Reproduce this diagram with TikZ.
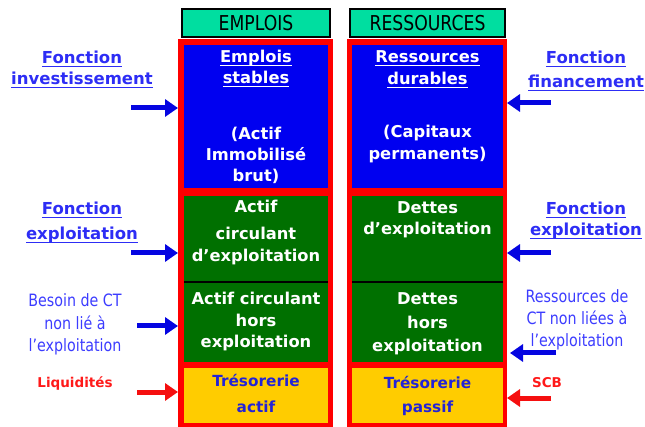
\documentclass[tikz,border=0pt]{standalone}
\usepackage{fontspec}
\setmainfont{DejaVu Sans}
\newfontfamily\narrowsans[FakeStretch=0.84]{DejaVu Sans}
\usetikzlibrary{arrows.meta}

\definecolor{hdrfill}{RGB}{0,222,160}
\definecolor{framered}{RGB}{255,0,0}
\definecolor{stablefill}{RGB}{0,0,240}
\definecolor{circfill}{RGB}{0,112,0}
\definecolor{tresofill}{RGB}{255,204,0}
\definecolor{tresotext}{RGB}{35,35,215}
\definecolor{linkblue}{RGB}{45,45,245}
\definecolor{plainblue}{RGB}{60,60,255}
\definecolor{arrowblue}{RGB}{5,5,225}
\definecolor{arrowred}{RGB}{245,15,15}
\definecolor{labelred}{RGB}{255,25,25}

% underline drawn at a fixed depth, crossing descenders
\newcommand\lineul[1]{\setbox0\hbox{#1}\rlap{\rule[-3.2pt]{\wd0}{1.3pt}}\box0}

% multi-line text nodes are placed by the baseline of their last line
\tikzset{
  panel/.style={inner sep=0pt, outer sep=0pt, anchor=north west},
  header/.style={panel, draw=black, line width=1.3pt, fill=hdrfill},
  headtext/.style={font=\narrowsans\fontsize{20.5}{22}\selectfont},
  redframe/.style={panel, fill=framered},
  txt/.style={anchor=base, inner sep=0pt, outer sep=0pt, align=center},
  boxtext/.style={txt, text=white, font=\bfseries\fontsize{16.3}{#1}\selectfont},
  tresotxt/.style={txt, text=tresotext, font=\bfseries\fontsize{15.3}{22}\selectfont},
  linklabel/.style={txt, text=linkblue, font=\bfseries\fontsize{16.5}{#1}\selectfont},
  plainlabel/.style={txt, text=plainblue, font=\narrowsans\fontsize{17}{#1}\selectfont},
  redlabel/.style={txt, text=labelred, font=\bfseries\fontsize{13.5}{16}\selectfont},
  bluearrow/.style={draw=arrowblue, line width=5pt, -{Triangle[length=13pt,width=17pt]}},
  redarrow/.style={draw=arrowred, line width=5pt, -{Triangle[length=13pt,width=17pt]}},
  divider/.style={draw=black, line width=1.3pt}
}

\begin{document}
\begin{tikzpicture}[x=1pt,y=-1pt]
\useasboundingbox (0,0) rectangle (645,427);

% column headings
\node[header, minimum width=148pt, minimum height=28pt] (hemp) at (182,9) {};
\node[headtext] (hempt) at (hemp.center) {EMPLOIS};
\node[header, minimum width=155pt, minimum height=28pt] (hres) at (350,9) {};
\node[headtext] (hrest) at (hres.center) {RESSOURCES};

% red frames of the two columns
\node[redframe, minimum width=155pt, minimum height=388pt] (lframe) at (178,39) {};
\node[redframe, minimum width=160pt, minimum height=388pt] (rframe) at (347,39) {};

% left column: uses
\node[panel, fill=stablefill, minimum width=144pt, minimum height=143pt] (lstable) at (184,45) {};
\node[panel, fill=circfill, minimum width=144pt, minimum height=86pt] (lcircA) at (184,196) {};
\node[panel, fill=circfill, minimum width=144pt, minimum height=80pt] (lcircB) at (184,282) {};
\node[panel, fill=tresofill, minimum width=144pt, minimum height=55pt] (ltreso) at (184,368) {};
\draw[divider] (lcircA.south west) -- (lcircA.south east);

% right column: resources
\node[panel, fill=stablefill, minimum width=151pt, minimum height=143pt] (rstable) at (352,45) {};
\node[panel, fill=circfill, minimum width=151pt, minimum height=86pt] (rcircA) at (352,196) {};
\node[panel, fill=circfill, minimum width=151pt, minimum height=80pt] (rcircB) at (352,282) {};
\node[panel, fill=tresofill, minimum width=151pt, minimum height=55pt] (rtreso) at (352,368) {};
\draw[divider] (rcircA.south west) -- (rcircA.south east);

% texts inside the left column
\node[boxtext=21] (tlstable) at (256,182)
  {\lineul{Emplois}\\\lineul{stables}\\[35pt](Actif\\Immobilisé\\brut)};
\node[boxtext=22] (tlcircA) at (256,262) {Actif\\[5pt]circulant\\d’exploitation};
\node[boxtext=21.5] (tlcircB) at (256,348) {Actif circulant\\hors\\exploitation};
\node[tresotxt] (tltreso) at (256,412) {Trésorerie\\[3pt]actif};

% texts inside the right column
\node[boxtext=22] (trstable) at (427.5,160)
  {\lineul{Ressources}\\\lineul{durables}\\[31pt](Capitaux\\permanents)};
\node[boxtext=21] (trcircA) at (427.5,235) {Dettes\\d’exploitation};
\node[boxtext=23.5] (trcircB) at (427.5,352) {Dettes\\hors\\exploitation};
\node[tresotxt] (trtreso) at (427.5,412) {Trésorerie\\[2pt]passif};

% labels on the left
\node[linklabel=21] (finv) at (82,85) {\lineul{Fonction}\\\lineul{investissement}};
\node[linklabel=25] (fexpl) at (82,240) {\lineul{Fonction}\\\lineul{exploitation}};
\node[plainlabel=23.5] (besoin) at (75,352) {Besoin de CT\\non lié à\\[-1.5pt]l’exploitation};
\node[redlabel] (liq) at (75,387) {Liquidités};

% labels on the right
\node[linklabel=24] (ffin) at (586,88) {\lineul{Fonction}\\\lineul{financement}};
\node[linklabel=21] (fexpr) at (586,236) {\lineul{Fonction}\\\lineul{exploitation}};
\node[plainlabel=22] (ressct) at (577,347) {Ressources de\\CT non liées à\\l’exploitation};
\node[redlabel] (scb) at (547,387) {SCB};

% flows into the columns
\coordinate (ain1) at (131,108);
\coordinate (ain2) at (131,253);
\coordinate (ain3) at (137,326);
\coordinate (ain4) at (137,392);
\draw[bluearrow] (ain1) -- (ain1 -| lframe.west);
\draw[bluearrow] (ain2) -- (ain2 -| lframe.west);
\draw[bluearrow] (ain3) -- (ain3 -| lframe.west);
\draw[redarrow]  (ain4) -- (ain4 -| lframe.west);

\coordinate (aout1) at (551,103);
\coordinate (aout2) at (551,253);
\coordinate (aout3) at (556,353);
\coordinate (aout4) at (551,398);
\draw[bluearrow] (aout1) -- (aout1 -| rframe.east);
\draw[bluearrow] (aout2) -- (aout2 -| rframe.east);
\draw[bluearrow] (aout3) -- ([xshift=3pt]aout3 -| rframe.east);
\draw[redarrow]  (aout4) -- (aout4 -| rframe.east);
\end{tikzpicture}
\end{document}
